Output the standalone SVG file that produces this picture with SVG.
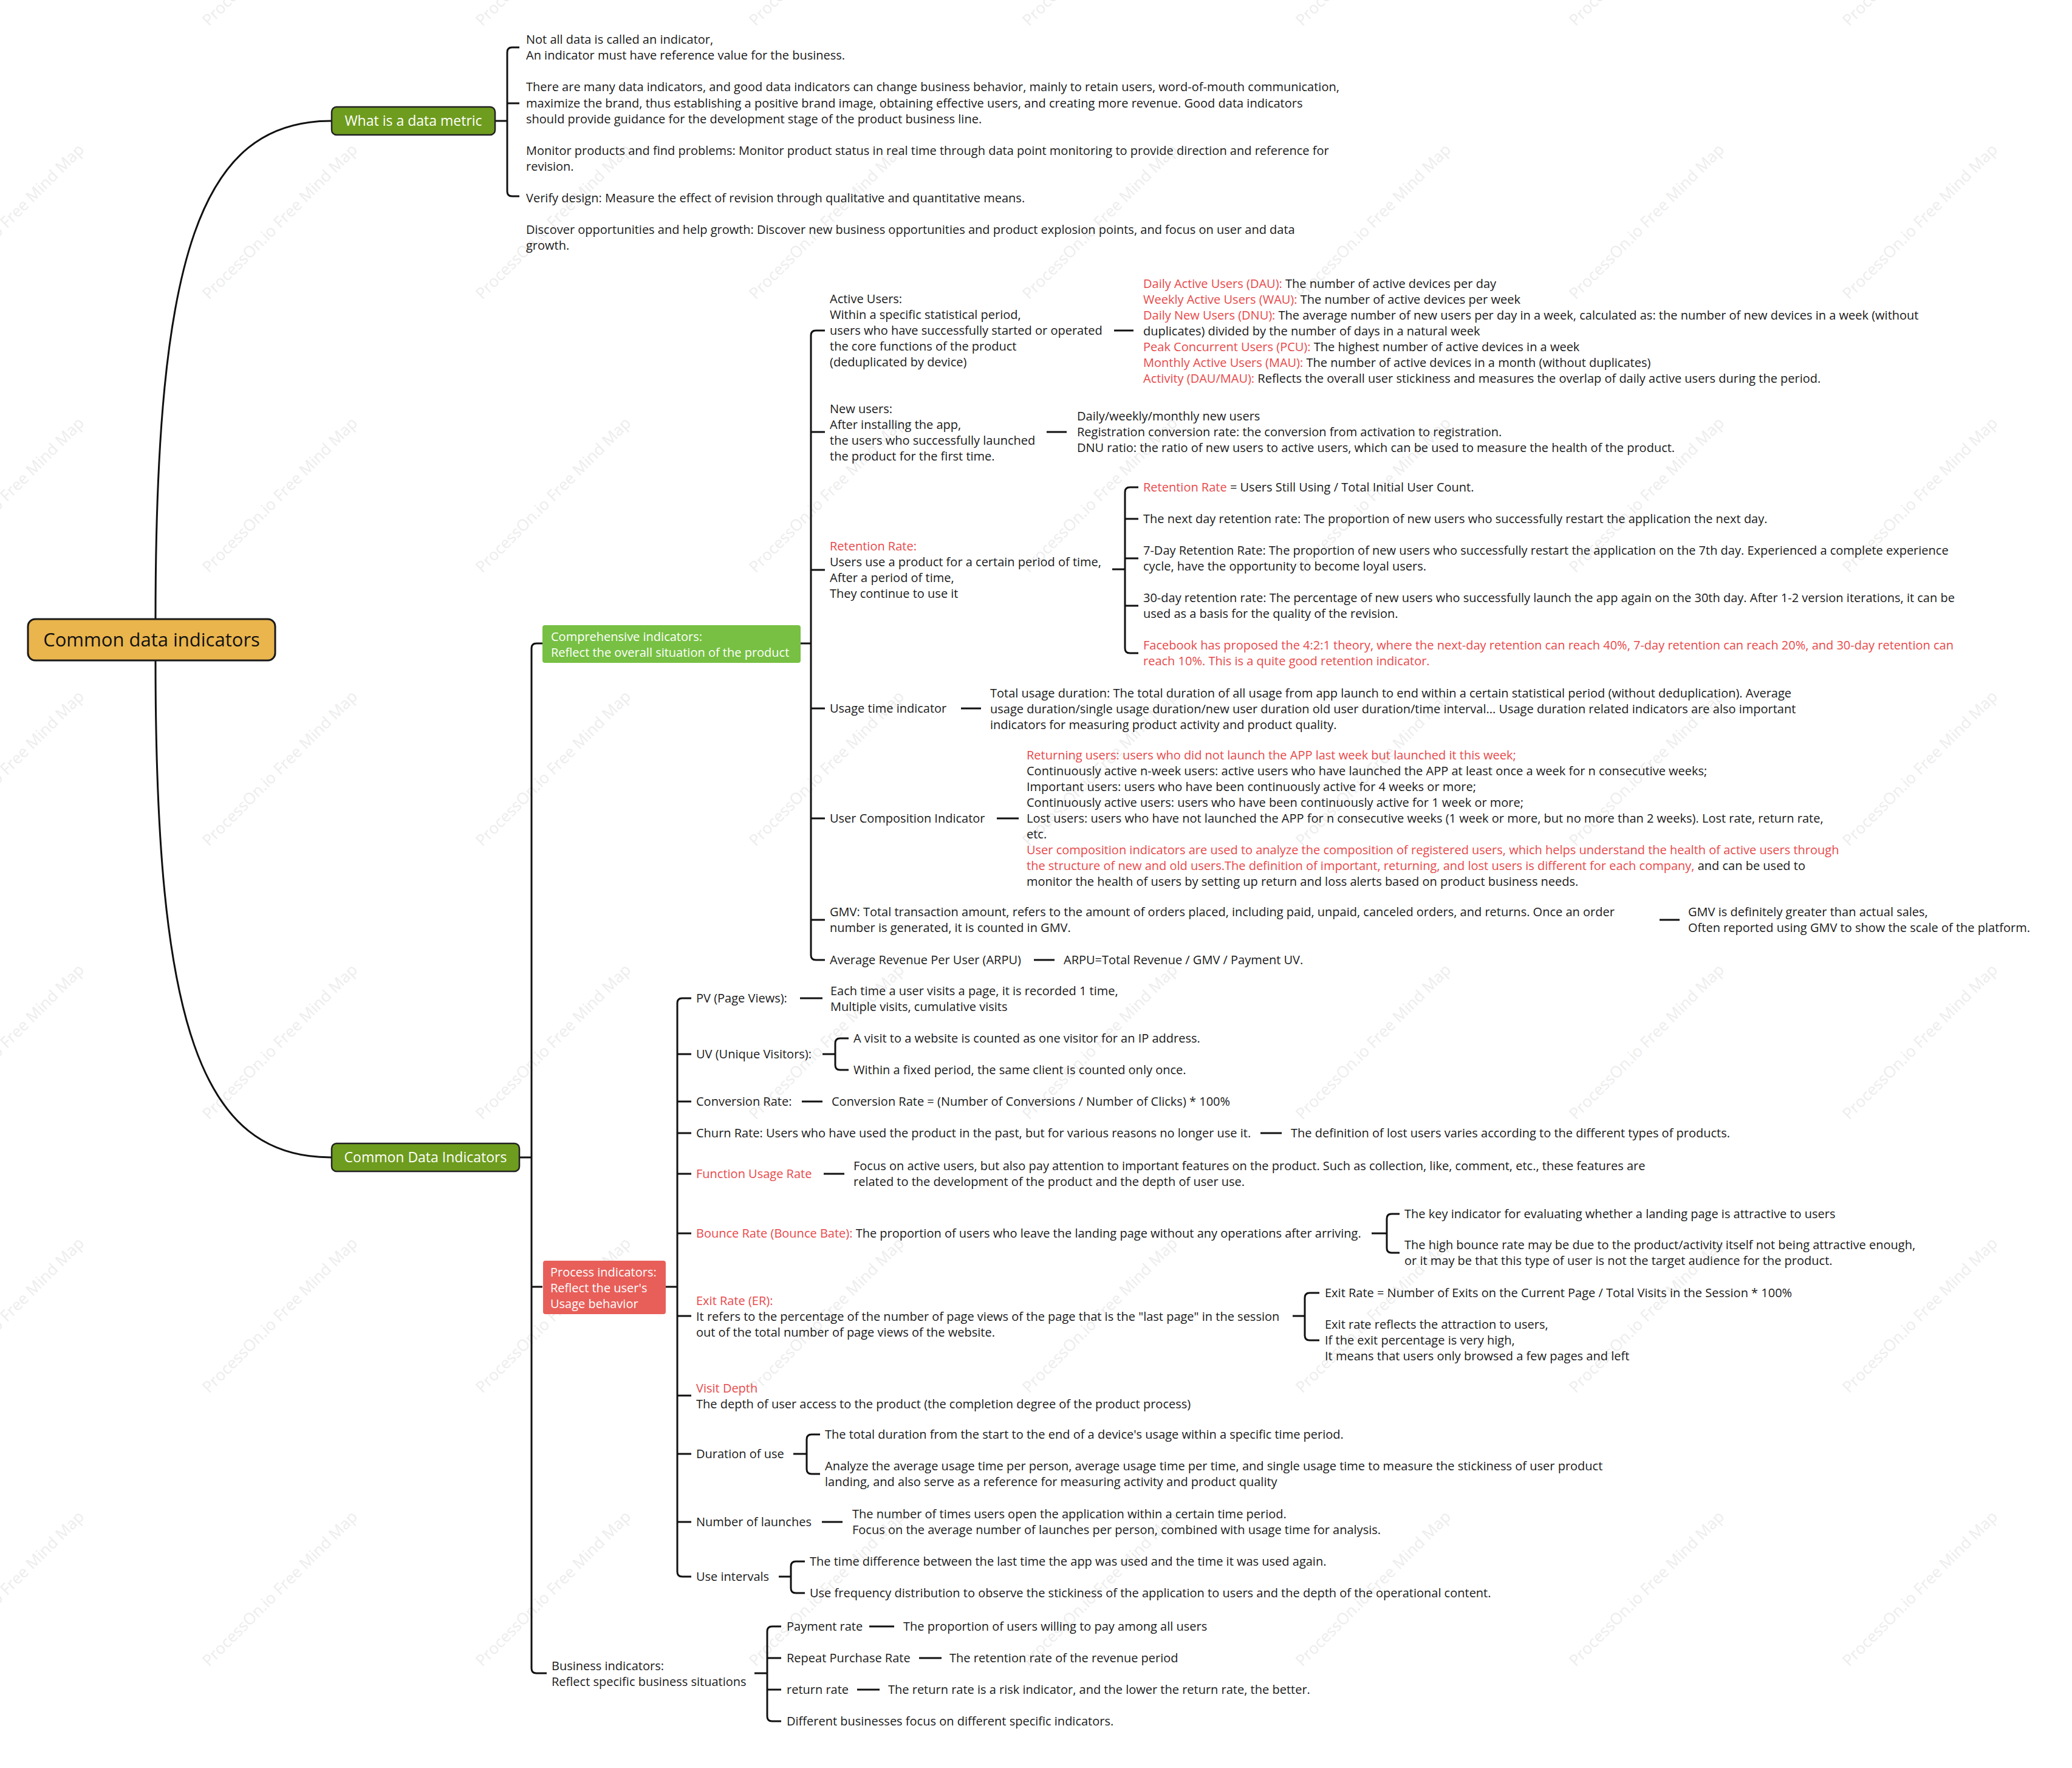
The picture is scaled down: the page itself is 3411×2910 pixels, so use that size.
<svg xmlns="http://www.w3.org/2000/svg" width="3411" height="2910" viewBox="0 0 3411 2910">
<style>
.t{font-family:"Open Sans","Noto Sans",sans-serif;font-size:20px;fill:#1a1a1a}
.r{fill:#e8494a}
.c{fill:none;stroke:#111;stroke-width:3}
.w{font-family:"Open Sans","Noto Sans",sans-serif;font-size:26px;fill:#ededed}
.nt{font-family:"Open Sans","Noto Sans",sans-serif;fill:#fff}
</style>
<rect width="3411" height="2910" fill="#fff"/>
<g id="watermarks">
<g transform="translate(-106,44) rotate(-45)"><text class="w">ProcessOn.io Free Mind Map</text></g>
<g transform="translate(344,44) rotate(-45)"><text class="w">ProcessOn.io Free Mind Map</text></g>
<g transform="translate(794,44) rotate(-45)"><text class="w">ProcessOn.io Free Mind Map</text></g>
<g transform="translate(1244,44) rotate(-45)"><text class="w">ProcessOn.io Free Mind Map</text></g>
<g transform="translate(1694,44) rotate(-45)"><text class="w">ProcessOn.io Free Mind Map</text></g>
<g transform="translate(2144,44) rotate(-45)"><text class="w">ProcessOn.io Free Mind Map</text></g>
<g transform="translate(2594,44) rotate(-45)"><text class="w">ProcessOn.io Free Mind Map</text></g>
<g transform="translate(3044,44) rotate(-45)"><text class="w">ProcessOn.io Free Mind Map</text></g>
<g transform="translate(-106,494) rotate(-45)"><text class="w">ProcessOn.io Free Mind Map</text></g>
<g transform="translate(344,494) rotate(-45)"><text class="w">ProcessOn.io Free Mind Map</text></g>
<g transform="translate(794,494) rotate(-45)"><text class="w">ProcessOn.io Free Mind Map</text></g>
<g transform="translate(1244,494) rotate(-45)"><text class="w">ProcessOn.io Free Mind Map</text></g>
<g transform="translate(1694,494) rotate(-45)"><text class="w">ProcessOn.io Free Mind Map</text></g>
<g transform="translate(2144,494) rotate(-45)"><text class="w">ProcessOn.io Free Mind Map</text></g>
<g transform="translate(2594,494) rotate(-45)"><text class="w">ProcessOn.io Free Mind Map</text></g>
<g transform="translate(3044,494) rotate(-45)"><text class="w">ProcessOn.io Free Mind Map</text></g>
<g transform="translate(-106,944) rotate(-45)"><text class="w">ProcessOn.io Free Mind Map</text></g>
<g transform="translate(344,944) rotate(-45)"><text class="w">ProcessOn.io Free Mind Map</text></g>
<g transform="translate(794,944) rotate(-45)"><text class="w">ProcessOn.io Free Mind Map</text></g>
<g transform="translate(1244,944) rotate(-45)"><text class="w">ProcessOn.io Free Mind Map</text></g>
<g transform="translate(1694,944) rotate(-45)"><text class="w">ProcessOn.io Free Mind Map</text></g>
<g transform="translate(2144,944) rotate(-45)"><text class="w">ProcessOn.io Free Mind Map</text></g>
<g transform="translate(2594,944) rotate(-45)"><text class="w">ProcessOn.io Free Mind Map</text></g>
<g transform="translate(3044,944) rotate(-45)"><text class="w">ProcessOn.io Free Mind Map</text></g>
<g transform="translate(-106,1394) rotate(-45)"><text class="w">ProcessOn.io Free Mind Map</text></g>
<g transform="translate(344,1394) rotate(-45)"><text class="w">ProcessOn.io Free Mind Map</text></g>
<g transform="translate(794,1394) rotate(-45)"><text class="w">ProcessOn.io Free Mind Map</text></g>
<g transform="translate(1244,1394) rotate(-45)"><text class="w">ProcessOn.io Free Mind Map</text></g>
<g transform="translate(1694,1394) rotate(-45)"><text class="w">ProcessOn.io Free Mind Map</text></g>
<g transform="translate(2144,1394) rotate(-45)"><text class="w">ProcessOn.io Free Mind Map</text></g>
<g transform="translate(2594,1394) rotate(-45)"><text class="w">ProcessOn.io Free Mind Map</text></g>
<g transform="translate(3044,1394) rotate(-45)"><text class="w">ProcessOn.io Free Mind Map</text></g>
<g transform="translate(-106,1844) rotate(-45)"><text class="w">ProcessOn.io Free Mind Map</text></g>
<g transform="translate(344,1844) rotate(-45)"><text class="w">ProcessOn.io Free Mind Map</text></g>
<g transform="translate(794,1844) rotate(-45)"><text class="w">ProcessOn.io Free Mind Map</text></g>
<g transform="translate(1244,1844) rotate(-45)"><text class="w">ProcessOn.io Free Mind Map</text></g>
<g transform="translate(1694,1844) rotate(-45)"><text class="w">ProcessOn.io Free Mind Map</text></g>
<g transform="translate(2144,1844) rotate(-45)"><text class="w">ProcessOn.io Free Mind Map</text></g>
<g transform="translate(2594,1844) rotate(-45)"><text class="w">ProcessOn.io Free Mind Map</text></g>
<g transform="translate(3044,1844) rotate(-45)"><text class="w">ProcessOn.io Free Mind Map</text></g>
<g transform="translate(-106,2294) rotate(-45)"><text class="w">ProcessOn.io Free Mind Map</text></g>
<g transform="translate(344,2294) rotate(-45)"><text class="w">ProcessOn.io Free Mind Map</text></g>
<g transform="translate(794,2294) rotate(-45)"><text class="w">ProcessOn.io Free Mind Map</text></g>
<g transform="translate(1244,2294) rotate(-45)"><text class="w">ProcessOn.io Free Mind Map</text></g>
<g transform="translate(1694,2294) rotate(-45)"><text class="w">ProcessOn.io Free Mind Map</text></g>
<g transform="translate(2144,2294) rotate(-45)"><text class="w">ProcessOn.io Free Mind Map</text></g>
<g transform="translate(2594,2294) rotate(-45)"><text class="w">ProcessOn.io Free Mind Map</text></g>
<g transform="translate(3044,2294) rotate(-45)"><text class="w">ProcessOn.io Free Mind Map</text></g>
<g transform="translate(-106,2744) rotate(-45)"><text class="w">ProcessOn.io Free Mind Map</text></g>
<g transform="translate(344,2744) rotate(-45)"><text class="w">ProcessOn.io Free Mind Map</text></g>
<g transform="translate(794,2744) rotate(-45)"><text class="w">ProcessOn.io Free Mind Map</text></g>
<g transform="translate(1244,2744) rotate(-45)"><text class="w">ProcessOn.io Free Mind Map</text></g>
<g transform="translate(1694,2744) rotate(-45)"><text class="w">ProcessOn.io Free Mind Map</text></g>
<g transform="translate(2144,2744) rotate(-45)"><text class="w">ProcessOn.io Free Mind Map</text></g>
<g transform="translate(2594,2744) rotate(-45)"><text class="w">ProcessOn.io Free Mind Map</text></g>
<g transform="translate(3044,2744) rotate(-45)"><text class="w">ProcessOn.io Free Mind Map</text></g>
</g>

<g id="connectors">
<path class="c" d="M256,1019 C256,420 330,199 545,199"/>
<path class="c" d="M256,1087 C256,1686 330,1905 545,1905"/>
<path class="c" d="M815,199 H835 M855,78 H843 Q835,78 835,86 V315 Q835,323 843,323 H855 M835,170 H855"/>
<path class="c" d="M855,1905 H875 M893,1059 H883 Q875,1059 875,1067 V2746 Q875,2754 883,2754 H900 M875,2118 H893"/>
<path class="c" d="M1318,1059 H1335 M1358,544 H1343 Q1335,544 1335,552 V1572 Q1335,1580 1343,1580 H1358 M1335,711 H1358 M1335,938 H1358 M1335,1166 H1358 M1335,1347 H1358 M1335,1514 H1358"/>
<path class="c" d="M1834,544 H1866 M1723,711 H1756 M1582,1166 H1615 M1641,1347 H1677 M2732,1514 H2765 M1702,1580 H1736"/>
<path class="c" d="M1831,937 H1852 M1874,802 H1860 Q1852,802 1852,810 V1067 Q1852,1075 1860,1075 H1874 M1852,854 H1874 M1852,919 H1874 M1852,997 H1874"/>
<path class="c" d="M1096,2118 H1115 M1138,1643 H1123 Q1115,1643 1115,1651 V2587 Q1115,2595 1123,2595 H1138 M1115,1735 H1138 M1115,1813 H1138 M1115,1865 H1138 M1115,1932 H1138 M1115,2030 H1138 M1115,2166 H1138 M1115,2297 H1138 M1115,2393 H1138 M1115,2505 H1138"/>
<path class="c" d="M1317,1643 H1354 M1320,1813 H1354 M2075,1865 H2110 M1356,1932 H1390 M1353,2505 H1387"/>
<path class="c" d="M1354,1735 H1375 M1397,1709 H1383 Q1375,1709 1375,1717 V1753 Q1375,1761 1383,1761 H1397"/>
<path class="c" d="M2258,2030 H2283 M2304,1998 H2291 Q2283,1998 2283,2006 V2054 Q2283,2062 2291,2062 H2304"/>
<path class="c" d="M2128,2166 H2148 M2172,2128 H2156 Q2148,2128 2148,2136 V2198 Q2148,2206 2156,2206 H2172"/>
<path class="c" d="M1306,2393 H1328 M1350,2361 H1336 Q1328,2361 1328,2369 V2418 Q1328,2426 1336,2426 H1350"/>
<path class="c" d="M1282,2595 H1302 M1325,2570 H1310 Q1302,2570 1302,2578 V2614 Q1302,2622 1310,2622 H1325"/>
<path class="c" d="M1242,2754 H1263 M1286,2677 H1271 Q1263,2677 1263,2685 V2825 Q1263,2833 1271,2833 H1286 M1263,2729 H1286 M1263,2781 H1286"/>
<path class="c" d="M1431,2677 H1472 M1513,2729 H1550 M1411,2781 H1448"/>
</g>

<g id="root">
<rect x="46" y="1019" width="407" height="68" rx="12" fill="#EAB54C" stroke="#1a1a1a" stroke-width="3"/>
<text x="249.5" y="1064" text-anchor="middle" style="font-family:'Open Sans','Noto Sans',sans-serif;font-size:31px;fill:#111">Common data indicators</text>
</g>

<g id="what-is">
<rect x="546" y="176" width="269" height="46" rx="8" fill="#6E9C1E" stroke="#222" stroke-width="2.5"/>
<text class="nt" x="680.5" y="207" text-anchor="middle" font-size="23">What is a data metric</text>
</g>
<g id="what-is-notes">
<text class="t" x="866" y="72">Not all data is called an indicator,</text>
<text class="t" x="866" y="98">An indicator must have reference value for the business.</text>
<text class="t" x="866" y="150">There are many data indicators, and good data indicators can change business behavior, mainly to retain users, word-of-mouth communication,</text>
<text class="t" x="866" y="177">maximize the brand, thus establishing a positive brand image, obtaining effective users, and creating more revenue. Good data indicators</text>
<text class="t" x="866" y="203">should provide guidance for the development stage of the product business line.</text>
<text class="t" x="866" y="255">Monitor products and find problems: Monitor product status in real time through data point monitoring to provide direction and reference for</text>
<text class="t" x="866" y="281">revision.</text>
<text class="t" x="866" y="333">Verify design: Measure the effect of revision through qualitative and quantitative means.</text>
<text class="t" x="866" y="385">Discover opportunities and help growth: Discover new business opportunities and product explosion points, and focus on user and data</text>
<text class="t" x="866" y="411">growth.</text>
</g>

<g id="common-data-indicators">
<rect x="546" y="1882" width="309" height="46" rx="8" fill="#6E9C1E" stroke="#222" stroke-width="2.5"/>
<text class="nt" x="700.5" y="1913" text-anchor="middle" font-size="23">Common Data Indicators</text>
</g>

<g id="comprehensive">
<rect x="893" y="1029" width="425" height="62" rx="4" fill="#77C043"/>
<text class="nt" x="907" y="1055" font-size="20">Comprehensive indicators:</text>
<text class="nt" x="907" y="1081" font-size="20">Reflect the overall situation of the product</text>
</g>

<g id="active-users">
<text class="t" x="1366" y="499">Active Users:</text>
<text class="t" x="1366" y="525">Within a specific statistical period,</text>
<text class="t" x="1366" y="551">users who have successfully started or operated</text>
<text class="t" x="1366" y="577">the core functions of the product</text>
<text class="t" x="1366" y="603">(deduplicated by device)</text>
</g>
<g id="active-users-detail">
<text class="t" x="1882" y="474"><tspan class="r">Daily Active Users (DAU):</tspan> The number of active devices per day</text>
<text class="t" x="1882" y="500"><tspan class="r">Weekly Active Users (WAU):</tspan> The number of active devices per week</text>
<text class="t" x="1882" y="526"><tspan class="r">Daily New Users (DNU):</tspan> The average number of new users per day in a week, calculated as: the number of new devices in a week (without</text>
<text class="t" x="1882" y="552">duplicates) divided by the number of days in a natural week</text>
<text class="t" x="1882" y="578"><tspan class="r">Peak Concurrent Users (PCU):</tspan> The highest number of active devices in a week</text>
<text class="t" x="1882" y="604"><tspan class="r">Monthly Active Users (MAU):</tspan> The number of active devices in a month (without duplicates)</text>
<text class="t" x="1882" y="630"><tspan class="r">Activity (DAU/MAU):</tspan> Reflects the overall user stickiness and measures the overlap of daily active users during the period.</text>
</g>

<g id="new-users">
<text class="t" x="1366" y="680">New users:</text>
<text class="t" x="1366" y="706">After installing the app,</text>
<text class="t" x="1366" y="732">the users who successfully launched</text>
<text class="t" x="1366" y="758">the product for the first time.</text>
</g>
<g id="new-users-detail">
<text class="t" x="1773" y="692">Daily/weekly/monthly new users</text>
<text class="t" x="1773" y="718">Registration conversion rate: the conversion from activation to registration.</text>
<text class="t" x="1773" y="744">DNU ratio: the ratio of new users to active users, which can be used to measure the health of the product.</text>
</g>

<g id="retention">
<text class="t r" x="1366" y="906">Retention Rate:</text>
<text class="t" x="1366" y="932">Users use a product for a certain period of time,</text>
<text class="t" x="1366" y="958">After a period of time,</text>
<text class="t" x="1366" y="984">They continue to use it</text>
</g>
<g id="retention-formula"><text class="t" x="1882" y="809"><tspan class="r">Retention Rate</tspan> = Users Still Using / Total Initial User Count.</text></g>
<g id="retention-next-day"><text class="t" x="1882" y="861">The next day retention rate: The proportion of new users who successfully restart the application the next day.</text></g>
<g id="retention-7day">
<text class="t" x="1882" y="913">7-Day Retention Rate: The proportion of new users who successfully restart the application on the 7th day. Experienced a complete experience</text>
<text class="t" x="1882" y="939">cycle, have the opportunity to become loyal users.</text>
</g>
<g id="retention-30day">
<text class="t" x="1882" y="991">30-day retention rate: The percentage of new users who successfully launch the app again on the 30th day. After 1-2 version iterations, it can be</text>
<text class="t" x="1882" y="1017">used as a basis for the quality of the revision.</text>
</g>
<g id="retention-facebook">
<text class="t r" x="1882" y="1069">Facebook has proposed the 4:2:1 theory, where the next-day retention can reach 40%, 7-day retention can reach 20%, and 30-day retention can</text>
<text class="t r" x="1882" y="1095">reach 10%. This is a quite good retention indicator.</text>
</g>

<g id="usage-time">
<text class="t" x="1366" y="1173">Usage time indicator</text>
</g>
<g id="usage-time-detail">
<text class="t" x="1630" y="1148">Total usage duration: The total duration of all usage from app launch to end within a certain statistical period (without deduplication). Average</text>
<text class="t" x="1630" y="1174">usage duration/single usage duration/new user duration old user duration/time interval... Usage duration related indicators are also important</text>
<text class="t" x="1630" y="1200">indicators for measuring product activity and product quality.</text>
</g>

<g id="user-composition">
<text class="t" x="1366" y="1354">User Composition Indicator</text>
</g>
<g id="user-composition-detail">
<text class="t r" x="1690" y="1250">Returning users: users who did not launch the APP last week but launched it this week;</text>
<text class="t" x="1690" y="1276">Continuously active n-week users: active users who have launched the APP at least once a week for n consecutive weeks;</text>
<text class="t" x="1690" y="1302">Important users: users who have been continuously active for 4 weeks or more;</text>
<text class="t" x="1690" y="1328">Continuously active users: users who have been continuously active for 1 week or more;</text>
<text class="t" x="1690" y="1354">Lost users: users who have not launched the APP for n consecutive weeks (1 week or more, but no more than 2 weeks). Lost rate, return rate,</text>
<text class="t" x="1690" y="1380">etc.</text>
<text class="t r" x="1690" y="1406">User composition indicators are used to analyze the composition of registered users, which helps understand the health of active users through</text>
<text class="t" x="1690" y="1432"><tspan class="r">the structure of new and old users.The definition of important, returning, and lost users is different for each company,</tspan> and can be used to</text>
<text class="t" x="1690" y="1458">monitor the health of users by setting up return and loss alerts based on product business needs.</text>
</g>

<g id="gmv">
<text class="t" x="1366" y="1508">GMV: Total transaction amount, refers to the amount of orders placed, including paid, unpaid, canceled orders, and returns. Once an order</text>
<text class="t" x="1366" y="1534">number is generated, it is counted in GMV.</text>
</g>
<g id="gmv-detail">
<text class="t" x="2779" y="1508">GMV is definitely greater than actual sales,</text>
<text class="t" x="2779" y="1534">Often reported using GMV to show the scale of the platform.</text>
</g>

<g id="arpu"><text class="t" x="1366" y="1587">Average Revenue Per User (ARPU)</text></g>
<g id="arpu-detail"><text class="t" x="1751" y="1587">ARPU=Total Revenue / GMV / Payment UV.</text></g>

<g id="process">
<rect x="894" y="2075" width="202" height="88" rx="4" fill="#E85F5A"/>
<text class="nt" x="906" y="2101" font-size="20">Process indicators:</text>
<text class="nt" x="906" y="2127" font-size="20">Reflect the user's</text>
<text class="nt" x="906" y="2153" font-size="20">Usage behavior</text>
</g>

<g id="pv"><text class="t" x="1146" y="1650">PV (Page Views):</text></g>
<g id="pv-detail">
<text class="t" x="1367" y="1638">Each time a user visits a page, it is recorded 1 time,</text>
<text class="t" x="1367" y="1664">Multiple visits, cumulative visits</text>
</g>
<g id="uv"><text class="t" x="1146" y="1742">UV (Unique Visitors):</text></g>
<g id="uv-ip"><text class="t" x="1405" y="1716">A visit to a website is counted as one visitor for an IP address.</text></g>
<g id="uv-period"><text class="t" x="1405" y="1768">Within a fixed period, the same client is counted only once.</text></g>
<g id="conversion"><text class="t" x="1146" y="1820">Conversion Rate:</text></g>
<g id="conversion-detail"><text class="t" x="1369" y="1820">Conversion Rate = (Number of Conversions / Number of Clicks) * 100%</text></g>
<g id="churn"><text class="t" x="1146" y="1872">Churn Rate: Users who have used the product in the past, but for various reasons no longer use it.</text></g>
<g id="churn-detail"><text class="t" x="2125" y="1872">The definition of lost users varies according to the different types of products.</text></g>
<g id="function-usage"><text class="t r" x="1146" y="1939">Function Usage Rate</text></g>
<g id="function-usage-detail">
<text class="t" x="1405" y="1926">Focus on active users, but also pay attention to important features on the product. Such as collection, like, comment, etc., these features are</text>
<text class="t" x="1405" y="1952">related to the development of the product and the depth of user use.</text>
</g>
<g id="bounce"><text class="t" x="1146" y="2037"><tspan class="r">Bounce Rate (Bounce Bate):</tspan> The proportion of users who leave the landing page without any operations after arriving.</text></g>
<g id="bounce-key"><text class="t" x="2312" y="2005">The key indicator for evaluating whether a landing page is attractive to users</text></g>
<g id="bounce-high">
<text class="t" x="2312" y="2056">The high bounce rate may be due to the product/activity itself not being attractive enough,</text>
<text class="t" x="2312" y="2082">or it may be that this type of user is not the target audience for the product.</text>
</g>
<g id="exit">
<text class="t r" x="1146" y="2148">Exit Rate (ER):</text>
<text class="t" x="1146" y="2174">It refers to the percentage of the number of page views of the page that is the "last page" in the session</text>
<text class="t" x="1146" y="2200">out of the total number of page views of the website.</text>
</g>
<g id="exit-formula"><text class="t" x="2181" y="2135">Exit Rate = Number of Exits on the Current Page / Total Visits in the Session * 100%</text></g>
<g id="exit-meaning">
<text class="t" x="2181" y="2187">Exit rate reflects the attraction to users,</text>
<text class="t" x="2181" y="2213">If the exit percentage is very high,</text>
<text class="t" x="2181" y="2239">It means that users only browsed a few pages and left</text>
</g>
<g id="visit-depth">
<text class="t r" x="1146" y="2292">Visit Depth</text>
<text class="t" x="1146" y="2318">The depth of user access to the product (the completion degree of the product process)</text>
</g>
<g id="duration"><text class="t" x="1146" y="2400">Duration of use</text></g>
<g id="duration-total"><text class="t" x="1358" y="2368">The total duration from the start to the end of a device's usage within a specific time period.</text></g>
<g id="duration-analyze">
<text class="t" x="1358" y="2420">Analyze the average usage time per person, average usage time per time, and single usage time to measure the stickiness of user product</text>
<text class="t" x="1358" y="2446">landing, and also serve as a reference for measuring activity and product quality</text>
</g>
<g id="launches"><text class="t" x="1146" y="2512">Number of launches</text></g>
<g id="launches-detail">
<text class="t" x="1403" y="2499">The number of times users open the application within a certain time period.</text>
<text class="t" x="1403" y="2525">Focus on the average number of launches per person, combined with usage time for analysis.</text>
</g>
<g id="intervals"><text class="t" x="1146" y="2602">Use intervals</text></g>
<g id="intervals-diff"><text class="t" x="1333" y="2577">The time difference between the last time the app was used and the time it was used again.</text></g>
<g id="intervals-freq"><text class="t" x="1333" y="2629">Use frequency distribution to observe the stickiness of the application to users and the depth of the operational content.</text></g>

<g id="business">
<text class="t" x="908" y="2749">Business indicators:</text>
<text class="t" x="908" y="2775">Reflect specific business situations</text>
</g>
<g id="payment"><text class="t" x="1295" y="2684">Payment rate</text></g>
<g id="payment-detail"><text class="t" x="1487" y="2684">The proportion of users willing to pay among all users</text></g>
<g id="repeat"><text class="t" x="1295" y="2736">Repeat Purchase Rate</text></g>
<g id="repeat-detail"><text class="t" x="1563" y="2736">The retention rate of the revenue period</text></g>
<g id="return"><text class="t" x="1295" y="2788">return rate</text></g>
<g id="return-detail"><text class="t" x="1462" y="2788">The return rate is a risk indicator, and the lower the return rate, the better.</text></g>
<g id="different"><text class="t" x="1295" y="2840">Different businesses focus on different specific indicators.</text></g>
</svg>
